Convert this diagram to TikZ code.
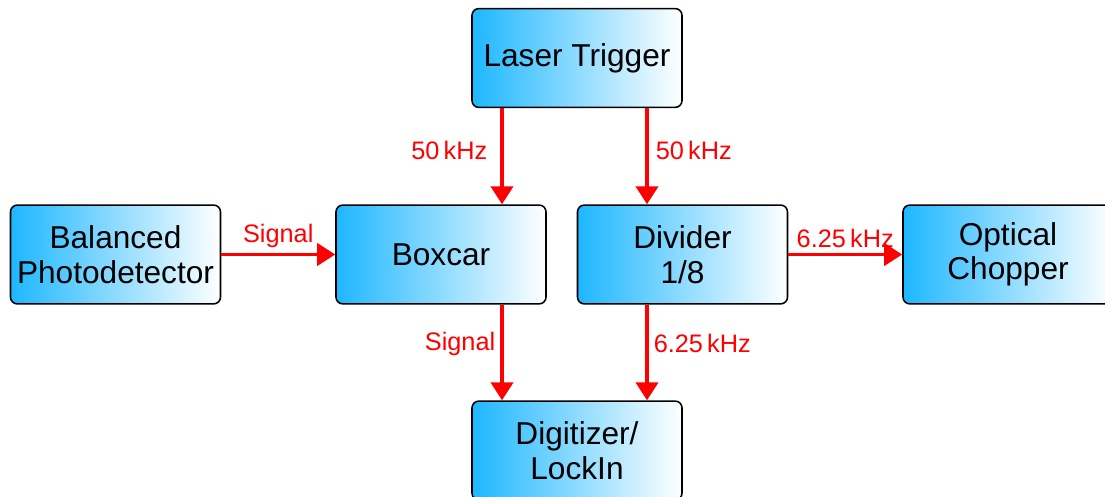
\documentclass[tikz,border=0pt]{standalone}
\usepackage{fontspec}
\setmainfont{Liberation Sans}
\usetikzlibrary{arrows.meta}
\definecolor{boxblue}{RGB}{30,183,255}
\tikzset{
  box/.style={draw=black, line width=1.1pt, rounded corners=0.17cm, align=center,
    minimum width=5.25cm, minimum height=2.47cm, left color=boxblue, right color=white,
    font=\fontsize{22.5}{24.5}\selectfont},
  flow/.style={-{Triangle[length=0.45cm, width=0.55cm]}, line width=2.8pt, red},
  lbl/.style={font=\fontsize{18}{20}\selectfont, text=red, inner sep=0.12cm},
}
\begin{document}
\begin{tikzpicture}
    \useasboundingbox (0,0) rectangle (27.625,12.425);
    \node[box] (laser) at (14.425,10.975) {Laser Trigger};
    \node[box] (balanced) at (2.8875,6.0625) {Balanced\\Photodetector};
    \node[box] (boxcar) at (11.025,6.0625) {Boxcar};
    \node[box] (divider) at (17.0625,6.0625) {Divider\\1/8};
    \node[box] (chopper) at (25.2,6.0625) {Optical\\Chopper};
    \node[box] (digitizer) at (14.425,1.1625) {Digitizer/\\LockIn};
    \draw[flow] ([xshift=-1.875cm]laser.south) -- ([xshift=-1.875cm]laser.south |- boxcar.north)
      node[lbl, midway, left=0.2cm, yshift=0.15cm]{50\,kHz};
    \draw[flow] ([xshift=1.75cm]laser.south) -- ([xshift=1.75cm]laser.south |- divider.north)
      node[lbl, midway, right=0.05cm, yshift=0.15cm]{50\,kHz};
    \draw[flow] (balanced) -- (boxcar) node[lbl, midway, above]{Signal};
    \draw[flow] (divider) -- (chopper) node[lbl, midway, above]{6.25\,kHz};
    \draw[flow] ([xshift=-1.875cm]digitizer.north |- boxcar.south) -- ([xshift=-1.875cm]digitizer.north)
      node[lbl, midway, left, yshift=0.22cm]{Signal};
    \draw[flow] ([xshift=1.75cm]digitizer.north |- divider.south) -- ([xshift=1.75cm]digitizer.north)
      node[lbl, midway, right, yshift=0.22cm]{6.25\,kHz};
  \end{tikzpicture}
\end{document}
